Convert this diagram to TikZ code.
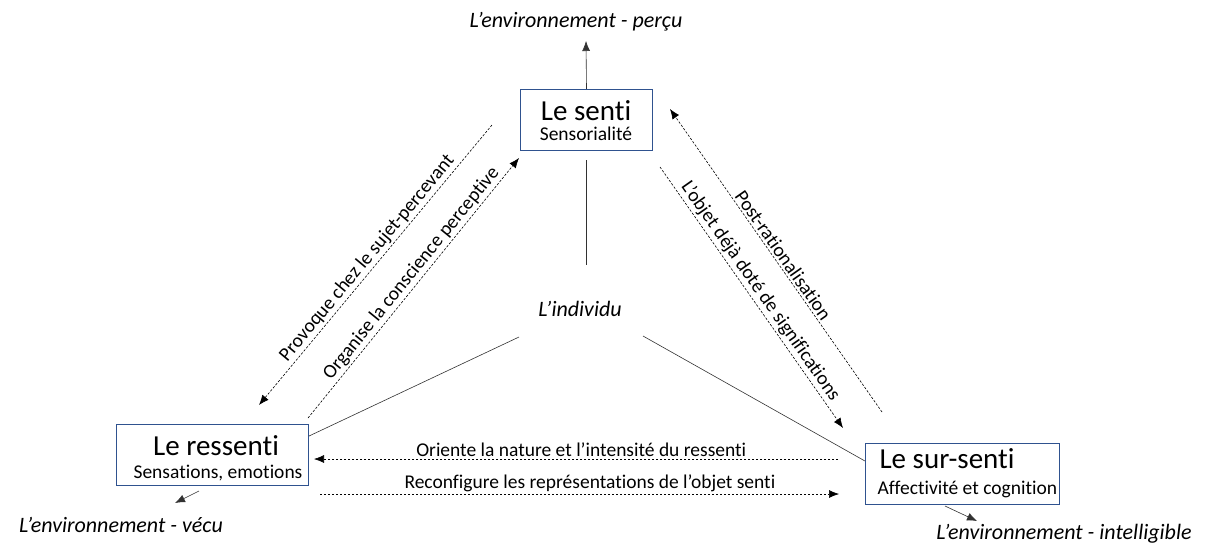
\documentclass[tikz,border=0pt]{standalone}
\usepackage{fontspec}
\setmainfont{Carlito}[RawFeature={-liga;-clig;-dlig}]
\usetikzlibrary{arrows.meta}
\definecolor{box_blue}{RGB}{47,82,143}
\definecolor{link_gray}{RGB}{50,50,50}

\begin{document}
\begin{tikzpicture}[x=1pt, y=-1pt,
  box/.style={draw=box_blue, line width=1.1pt, minimum height=61pt, inner sep=0pt},
  boxtitle/.style={font=\fontsize{29}{30}\selectfont, anchor=base},
  boxsub/.style={font=\fontsize{19.5}{20}\selectfont, anchor=base},
  envtext/.style={font=\fontsize{22}{24}\selectfont\itshape, anchor=base},
  linktext/.style={font=\fontsize{19.5}{20}\selectfont, sloped, above, inner sep=2pt},
  plainlink/.style={draw=link_gray, line width=0.6pt},
  dotlink/.style={draw=black, line width=0.6pt, dash pattern=on 2.4pt off 1.6pt},
  tip/.style={-{Latex[length=10pt,width=8pt]}}]
\useasboundingbox (0,0) rectangle (1206,550);

\node[box, minimum width=132pt] (senti) at (586.5,120) {};
\node[box, minimum width=192pt] (ressenti) at (212.5,455) {};
\node[box, minimum width=194pt] (sursenti) at (962.5,474) {};

\node[boxtitle] (sentiT) at (586,120) {Le senti};
\node[boxsub] (sentiS) at (586,140) {Sensorialité};
\node[boxtitle] (ressentiT) at (216,455) {Le ressenti};
\node[boxsub] (ressentiS) at (218,478) {Sensations, emotions};
\node[boxtitle, anchor=base west] (sursentiT) at (876,468) {Le sur-senti};
\node[boxsub, anchor=base west] (sursentiS) at (874,494) {Affectivité et cognition};

\node[envtext] (percu) at (576,27) {L’environnement - perçu};
\node[envtext] (vecu) at (121,532) {L’environnement - vécu};
\node[envtext] (intel) at (1064,539) {L’environnement - intelligible};
\node[envtext] (individu) at (580,316) {L’individu};

\coordinate (percuA) at (586,41);
\coordinate (vecuA) at (175,503);
\coordinate (intelA) at (977,521);
\draw[plainlink, tip] (senti.north) -- (percuA);
\draw[plainlink, tip] (199,491) -- (vecuA);
\draw[plainlink, tip] (945,506) -- (intelA);

\coordinate (indTop) at (586,265);
\coordinate (indLeft) at (519,337);
\coordinate (indRight) at (643,336);
\draw[plainlink] (586,160) -- (indTop);
\draw[plainlink] (indLeft) -- (ressenti.north east |- 0,436);
\draw[plainlink] (indRight) -- (sursenti.west |- 0,461);

\coordinate (provA) at (492,125);
\coordinate (provB) at (259,405);
\coordinate (orgA) at (308,418);
\coordinate (orgB) at (519,158);
\coordinate (postA) at (882,412);
\coordinate (postB) at (670,109);
\coordinate (objA) at (660,167);
\coordinate (objB) at (843,428);
\coordinate (oriA) at (838,459);
\coordinate (oriB) at (314,459);
\coordinate (recA) at (320,494);
\coordinate (recB) at (839,494);

\draw[dotlink, tip] (provA) -- node[linktext] {Provoque chez le sujet-percevant} (provB);
\draw[dotlink, tip] (orgA) -- node[linktext, pos=0.53] {Organise la conscience perceptive} (orgB);
\draw[dotlink, tip] (postA) -- node[linktext] {Post-rationalisation} (postB);
\draw[dotlink, tip] (objA) -- node[linktext] {L’objet déjà doté de significations} (objB);
\draw[dotlink, tip] (oriA) -- node[linktext, pos=0.49] {Oriente la nature et l’intensité du ressenti} (oriB);
\draw[dotlink, tip] (recA) -- node[linktext, pos=0.52] {Reconfigure les représentations de l’objet senti} (recB);
\end{tikzpicture}
\end{document}
